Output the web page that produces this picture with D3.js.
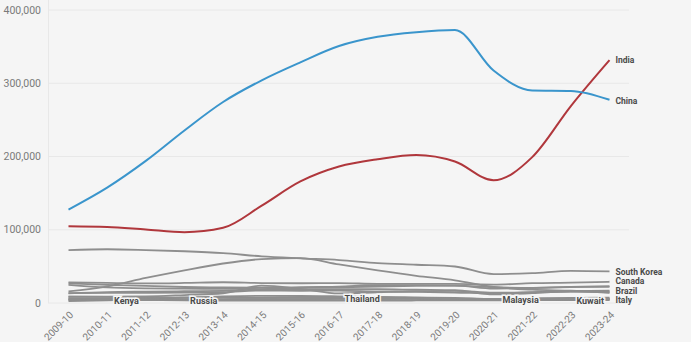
<!DOCTYPE html>
<html><head><meta charset="utf-8">
<script src="https://cdn.jsdelivr.net/npm/d3@7"></script>
<style>
html,body{margin:0;padding:0;background:#f5f5f5;}
svg{display:block;font-family:Roboto, "Noto Sans", sans-serif;}
</style></head>
<body><svg id="c" width="691" height="342"></svg>
<script>
const years = ["2009-10","2010-11","2011-12","2012-13","2013-14","2014-15","2015-16","2016-17","2017-18","2018-19","2019-20","2020-21","2021-22","2022-23","2023-24"];
const yTicks = [0,100000,200000,300000,400000];

const china = [127628,157558,194029,235597,274439,304040,328547,350755,363341,369548,372532,317299,290086,289526,277398];
const india = [104897,103895,100270,96754,102673,132888,165918,186267,196271,202014,193124,167582,199182,268923,331602];
const southKorea = [72153,73351,72295,70627,68047,63710,61007,58663,54555,52250,49809,39491,40755,43847,43149];
const saudiArabia = [15810,22704,34139,44566,53919,59945,61287,52611,44432,37080,30957,21933,18206,16733,14500];
const canada = [28145,27546,26821,27357,28304,27240,26973,27065,26122,26122,25992,25143,27013,27876,28998];
const taiwan = [26685,24818,23250,21867,21266,20993,21127,21516,22454,23369,23724,19673,20487,21834,23157];
const japan = [24842,21290,19966,19568,19334,19064,19060,18780,18753,18105,17554,11785,13449,16054,13959];
const vietnam = [13112,14888,15572,16098,16579,18722,21403,22438,24325,24392,23777,21631,20713,21900,22066];
const mexico = [13450,13713,13893,14199,14779,17052,16733,16835,15468,15229,14348,12986,14500,15500,16000];
const brazil = [8786,8777,9029,10868,13286,23675,19370,13089,14620,16059,16671,14000,14897,16025,16877];
const thailand = [8531,8236,7626,7341,7217,7113,7113,6893,6636,6830,6298,5429,6300,7000,7200];
const malaysia = [6190,6735,6743,7147,7548,7360,8360,8247,8247,7597,6877,5412,5300,5900,6000];
const kenya = [5384,4666,4137,3516,3308,3160,3199,3238,3298,3451,3636,3550,3800,4200,4500];
const russia = [4827,4692,4805,4804,5138,5226,5422,5550,5412,5583,5227,4645,4800,4900,4900];
const kuwait = [2500,3722,5115,7288,9034,9772,9825,9106,8000,6600,5200,4300,4000,3900,3900];
const italy = [3800,3900,4100,4300,4400,4900,5300,5600,5600,5500,5300,4400,5500,5700,5800];

const series = [
  {name:"Italy", values:italy, end:true, nudge:1.6},
  {name:"Kuwait", values:kuwait, at:13.5},
  {name:"Russia", values:russia, at:3.5},
  {name:"Kenya", values:kenya, at:1.5},
  {name:"Malaysia", values:malaysia, at:11.7},
  {name:"Thailand", values:thailand, at:7.6},
  {name:"Brazil", values:brazil, end:true, nudge:0.6},
  {name:"Mexico", values:mexico},
  {name:"Vietnam", values:vietnam},
  {name:"Japan", values:japan},
  {name:"Taiwan", values:taiwan},
  {name:"Canada", values:canada, end:true, nudge:-0.6},
  {name:"Saudi Arabia", values:saudiArabia},
  {name:"South Korea", values:southKorea, end:true, nudge:0.6},
  {name:"India", values:india, end:true, color:"#b0373c", nudge:0.5},
  {name:"China", values:china, end:true, color:"#3a95cc", nudge:1}
];

const svg = d3.select("#c");
const x = d3.scalePoint().domain(years).range([68.5, 609.5]);
const y = d3.scaleLinear().domain([0,400000]).range([303,10]);

// grid
svg.append("g").selectAll("line").data(yTicks).join("line")
  .attr("x1",48).attr("x2",629).attr("y1",d=>y(d)).attr("y2",d=>y(d))
  .attr("stroke","#e8e8e8").attr("stroke-width",1);
svg.append("line").attr("x1",48.5).attr("x2",48.5).attr("y1",0).attr("y2",303)
  .attr("stroke","#e8e8e8");

// y labels
svg.append("g").selectAll("text").data(yTicks).join("text")
  .attr("x",41).attr("y",d=>y(d)).attr("dy","0.35em").attr("text-anchor","end")
  .attr("font-size",10.5).attr("fill","#7a7a7a").text(d=>d3.format(",")(d));

// x labels
svg.append("g").selectAll("text").data(years).join("text")
  .attr("transform",d=>`translate(${x(d)+3},${313}) rotate(-45)`)
  .attr("text-anchor","end").attr("dy","0.35em")
  .attr("font-size",10).attr("fill","#7a7a7a").text(d=>d);

const line = d3.line().x((d,i)=>x(years[i])).y(d=>y(d)).curve(d3.curveMonotoneX);

svg.append("g").selectAll("path").data(series).join("path")
  .attr("d",d=>line(d.values)).attr("fill","none")
  .attr("stroke",d=>d.color||"#8e8e8e").attr("stroke-width",d=>d.color?2:1.8)
  .attr("stroke-linejoin","round");

// end labels
const last = years.length-1;
svg.append("g").selectAll("text").data(series.filter(s=>s.end)).join("text")
  .attr("x",x(years[last])+6).attr("y",d=>y(d.values[last])+d.nudge).attr("dy","0.33em")
  .attr("font-size",8.5).attr("font-weight",700).attr("fill","#4a4a4a").text(d=>d.name);

// inline labels
function valAt(v,t){const i=Math.floor(t),f=t-i;return v[i]+(v[Math.min(i+1,v.length-1)]-v[i])*f;}
svg.append("g").selectAll("text").data(series.filter(s=>s.at!==undefined)).join("text")
  .attr("x",d=>x(years[0])+(x(years[1])-x(years[0]))*d.at)
  .attr("y",d=>y(valAt(d.values,d.at))+1).attr("dy","0.35em").attr("text-anchor","middle")
  .attr("font-size",9).attr("font-weight",700).attr("fill","#4a4a4a")
  .attr("stroke","#f5f5f5").attr("stroke-width",3).attr("paint-order","stroke")
  .text(d=>d.name);
</script></body></html>
